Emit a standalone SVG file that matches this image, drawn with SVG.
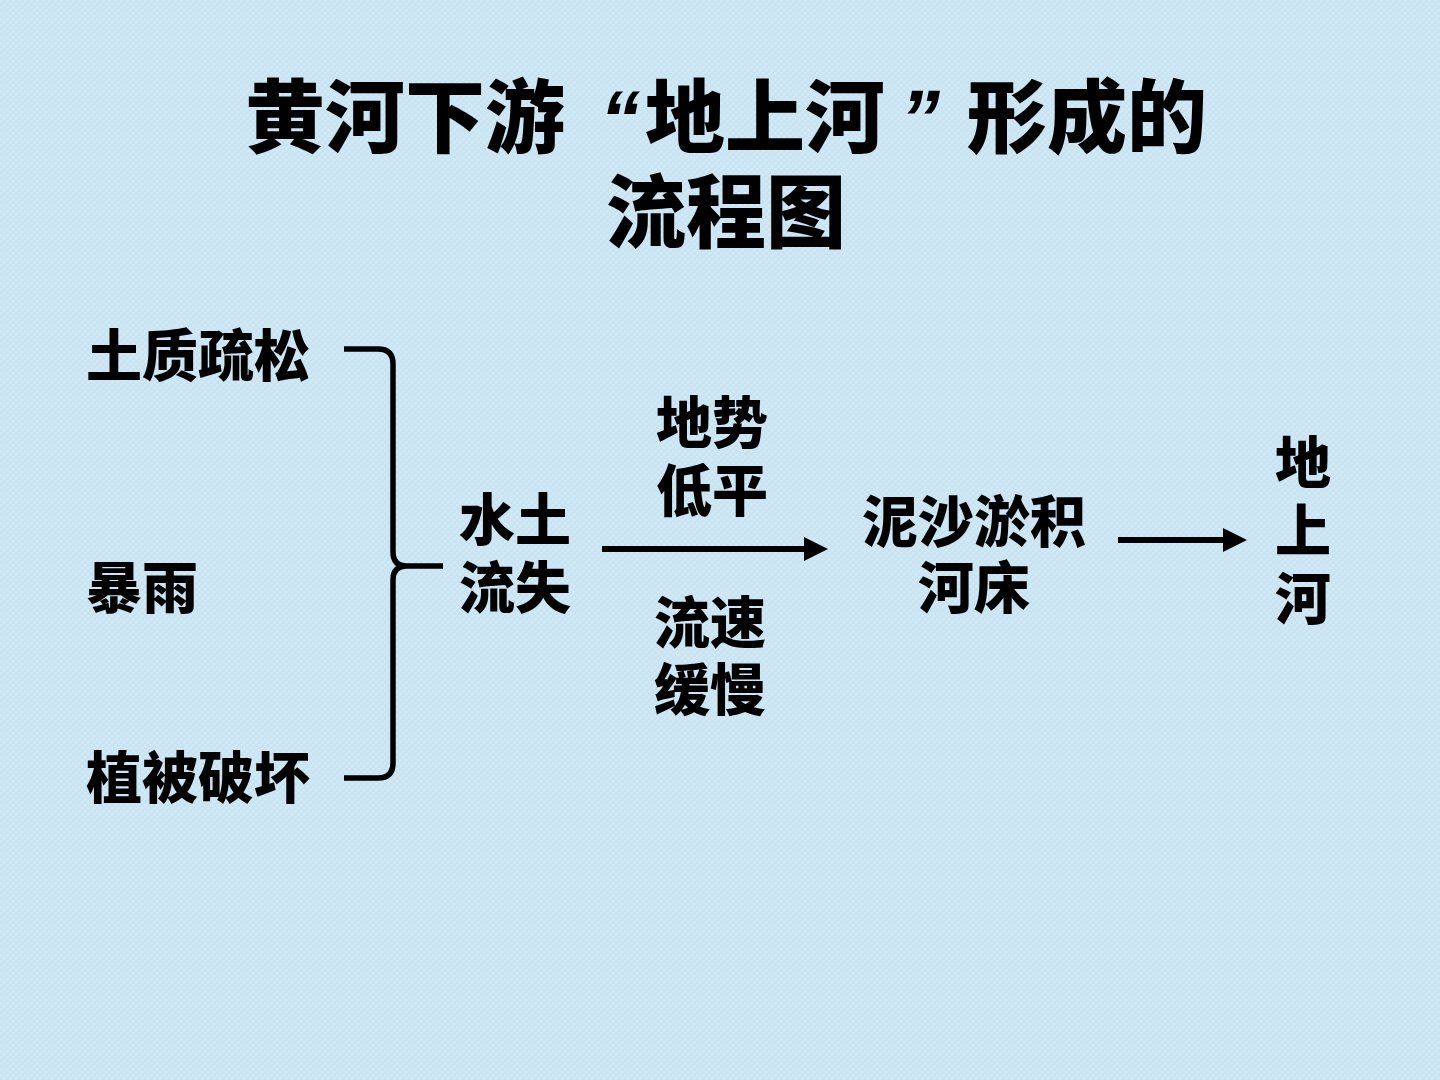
<svg xmlns="http://www.w3.org/2000/svg" width="1440" height="1080" viewBox="0 0 1440 1080">
  <style>
    .t { font-family: "Noto Sans CJK SC", "Noto Sans CJK TC", sans-serif; font-weight: 900; fill: #000; }
    .title { font-size: 80px; }
    .lbl { font-size: 56px; }
    .q { font-family: "Liberation Sans", "Noto Sans CJK SC", sans-serif; font-weight: 700; font-style: italic; font-size: 80px; fill: #000; }
    .conn { stroke: #000; stroke-width: 6; fill: none; }
    .brace { stroke: #000; stroke-width: 5.5; fill: none; stroke-linecap: butt; }
  </style>
  <defs>
    <pattern id="tex" width="6" height="6" patternUnits="userSpaceOnUse">
      <rect width="6" height="6" fill="#c8e4f2"/>
      <path d="M0,1 H3 M3,4 H6 M1,0 V3 M4,3 V6" stroke="#dff0fa" stroke-width="1" opacity="0.6"/>
    </pattern>
    <marker id="arrow" markerUnits="userSpaceOnUse" markerWidth="24" markerHeight="24" refX="6" refY="12" orient="auto">
      <path d="M0,0 L24,12 L0,24 Z" fill="#000"/>
    </marker>
  </defs>

  <rect width="1440" height="1080" fill="url(#tex)"/>

  <g id="title">
    <text class="t title" x="245" y="146">黄河下游</text>
    <text class="q" x="640" y="146" text-anchor="end">“</text>
    <text class="t title" x="645" y="146">地上河</text>
    <text class="q" x="900" y="146">”</text>
    <text class="t title" x="967" y="146">形成的</text>
    <text class="t title" x="726" y="241" text-anchor="middle">流程图</text>
  </g>

  <g id="node-soil">
    <text class="t lbl" x="86" y="376">土质疏松</text>
  </g>
  <g id="node-rain">
    <text class="t lbl" x="86" y="608">暴雨</text>
  </g>
  <g id="node-veg">
    <text class="t lbl" x="86" y="798">植被破坏</text>
  </g>
  <g id="node-erosion">
    <text class="t lbl" x="515" y="540" text-anchor="middle">水土</text>
    <text class="t lbl" x="515" y="608" text-anchor="middle">流失</text>
  </g>
  <g id="label-terrain">
    <text class="t lbl" x="712" y="443" text-anchor="middle">地势</text>
    <text class="t lbl" x="712" y="511" text-anchor="middle">低平</text>
  </g>
  <g id="label-flow">
    <text class="t lbl" x="710" y="643" text-anchor="middle">流速</text>
    <text class="t lbl" x="710" y="710" text-anchor="middle">缓慢</text>
  </g>
  <g id="node-silt">
    <text class="t lbl" x="974" y="542" text-anchor="middle">泥沙淤积</text>
    <text class="t lbl" x="974" y="608" text-anchor="middle">河床</text>
  </g>
  <g id="node-river">
    <text class="t lbl" x="1303" y="483" text-anchor="middle">地</text>
    <text class="t lbl" x="1303" y="551" text-anchor="middle">上</text>
    <text class="t lbl" x="1303" y="619" text-anchor="middle">河</text>
  </g>

  <g id="connectors">
    <path class="brace" d="M344,349 L378,349 Q393,349 393,364 L393,552 Q393,566 407,566 L443,566 M407,566 Q393,566 393,580 L393,763 Q393,778 378,778 L344,778"/>
    <line class="conn" x1="602" y1="549" x2="810" y2="549" marker-end="url(#arrow)"/>
    <line class="conn" x1="1118" y1="540" x2="1229" y2="540" marker-end="url(#arrow)"/>
  </g>
</svg>
